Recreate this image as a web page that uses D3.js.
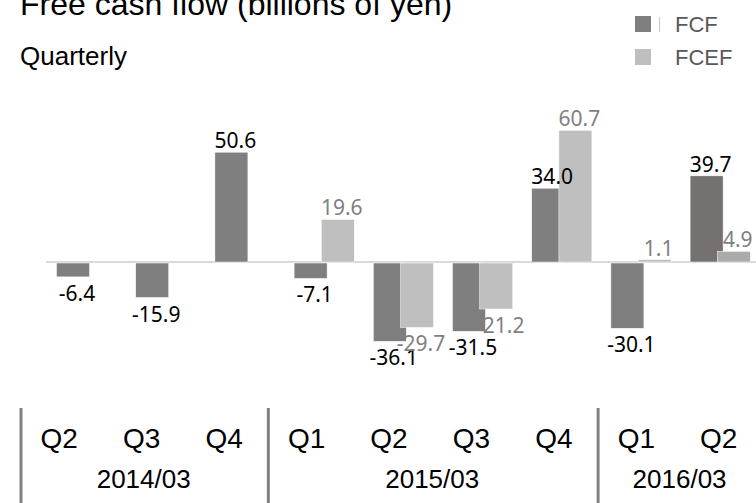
<!DOCTYPE html>
<html>
<head>
<meta charset="utf-8">
<script src="https://d3js.org/d3.v7.min.js"></script>
<style>
  body { margin: 0; background: #fff; }
  svg { display: block; }
</style>
</head>
<body>
<svg width="756" height="503"></svg>
<script>
var quarters = ["Q2", "Q3", "Q4", "Q1", "Q2", "Q3", "Q4", "Q1", "Q2"];
var years = ["2014/03", "2014/03", "2014/03", "2015/03", "2015/03", "2015/03", "2015/03", "2016/03", "2016/03"];
var fcf = [-6.4, -15.9, 50.6, -7.1, -36.1, -31.5, 34.0, -30.1, 39.7];
var fcef = [null, null, null, 19.6, -29.7, -21.2, 60.7, 1.1, 4.9];
var seriesNames = ["FCF", "FCEF"];

var svg = d3.select("svg"),
	width = +svg.attr("width"),
	height = +svg.attr("height"),
	barW = 33;

var idx = d3.range(quarters.length);

var x0 = d3.scaleBand().domain(idx).range([47, 759.8]).paddingInner(0.24).paddingOuter(0.12),
	x1 = d3.scalePoint().domain(seriesNames).range([0, x0.bandwidth() - barW]),
	y = d3.scaleLinear().domain([0, 60]).range([262, 131.8]),
	xa = d3.scaleBand().domain(idx).range([20, 762]);

var fill = function(s, i) {
	if (i === quarters.length - 1) return s === "FCF" ? "#767171" : "#aeaaaa";
	return s === "FCF" ? "#7f7f7f" : "#bfbfbf";
};

var rows = [];
idx.forEach(function(i) {
	rows.push({i: i, s: "FCF", v: fcf[i]});
	if (fcef[i] !== null) rows.push({i: i, s: "FCEF", v: fcef[i]});
});

// title
svg.append("text")
	.attr("x", 20).attr("y", 15)
	.style("font", "32px 'Liberation Sans', Arial, sans-serif")
	.attr("fill", "#000")
	.text("Free cash flow (billions of yen)");

svg.append("text")
	.attr("x", 20).attr("y", 65)
	.style("font", "26px 'Liberation Sans', Arial, sans-serif")
	.attr("fill", "#000")
	.text("Quarterly");

// legend
var legend = svg.append("g").selectAll("g")
	.data(seriesNames)
	.enter().append("g")
	.attr("transform", function(d, k) { return "translate(635," + (16 + k * 33) + ")"; });

legend.append("rect")
	.attr("width", 16).attr("height", 16)
	.attr("fill", function(d) { return fill(d, 0); });

legend.append("text")
	.attr("x", 40).attr("y", 16)
	.style("font", "22px 'Liberation Sans', Arial, sans-serif")
	.attr("fill", "#595959")
	.text(function(d) { return d; });

svg.append("line")
	.attr("x1", 659.5).attr("x2", 659.5)
	.attr("y1", 17).attr("y2", 32)
	.attr("stroke", "#c8c8c8");

// zero line
svg.append("line")
	.attr("x1", 46).attr("x2", width)
	.attr("y1", y(0)).attr("y2", y(0))
	.attr("stroke", "#d9d9d9")
	.attr("stroke-width", 2);

// bars
svg.append("g").selectAll("rect")
	.data(rows)
	.enter().append("rect")
	.attr("x", function(d) { return x0(d.i) + x1(d.s); })
	.attr("width", barW)
	.attr("y", function(d) { return d.v >= 0 ? y(d.v) : y(0) + 1; })
	.attr("height", function(d) { return Math.abs(y(d.v) - y(0)); })
	.attr("fill", function(d) { return fill(d.s, d.i); })
	.attr("stroke", "#fff")
	.attr("stroke-width", 0.5);

// value labels
svg.append("g").selectAll("text")
	.data(rows)
	.enter().append("text")
	.attr("x", function(d) { return x0(d.i) + x1(d.s) + barW / 2 + 4; })
	.attr("y", function(d) { return d.v >= 0 ? y(d.v) - 4 : y(d.v) + 25; })
	.attr("text-anchor", "middle")
	.style("font", "21px 'Noto Sans', 'Open Sans', sans-serif")
	.attr("fill", function(d) { return d.s === "FCF" ? "#000" : "#7f7f7f"; })
	.text(function(d) { return d.v.toFixed(1); });

// category axis
var axis = svg.append("g");

axis.selectAll(".q")
	.data(idx)
	.enter().append("text")
	.attr("class", "q")
	.attr("x", function(i) { return xa(i) + xa.bandwidth() / 2 - 2; })
	.attr("y", 448)
	.attr("text-anchor", "middle")
	.style("font", "28px 'Liberation Sans', Arial, sans-serif")
	.attr("fill", "#000")
	.text(function(i) { return quarters[i]; });

var groups = d3.groups(idx, function(i) { return years[i]; });

axis.selectAll(".sep")
	.data(groups)
	.enter().append("line")
	.attr("x1", function(g) { return xa(g[1][0]) + 1; })
	.attr("x2", function(g) { return xa(g[1][0]) + 1; })
	.attr("y1", 408).attr("y2", height)
	.attr("stroke", "#808080")
	.attr("stroke-width", 3);

axis.selectAll(".yr")
	.data(groups)
	.enter().append("text")
	.attr("class", "yr")
	.attr("x", function(g) {
		var a = xa(g[1][0]), b = xa(g[1][g[1].length - 1]) + xa.bandwidth();
		return (a + b) / 2;
	})
	.attr("y", 488)
	.attr("text-anchor", "middle")
	.style("font", "26px 'Liberation Sans', Arial, sans-serif")
	.attr("fill", "#000")
	.text(function(g) { return g[0]; });
</script>
</body>
</html>
